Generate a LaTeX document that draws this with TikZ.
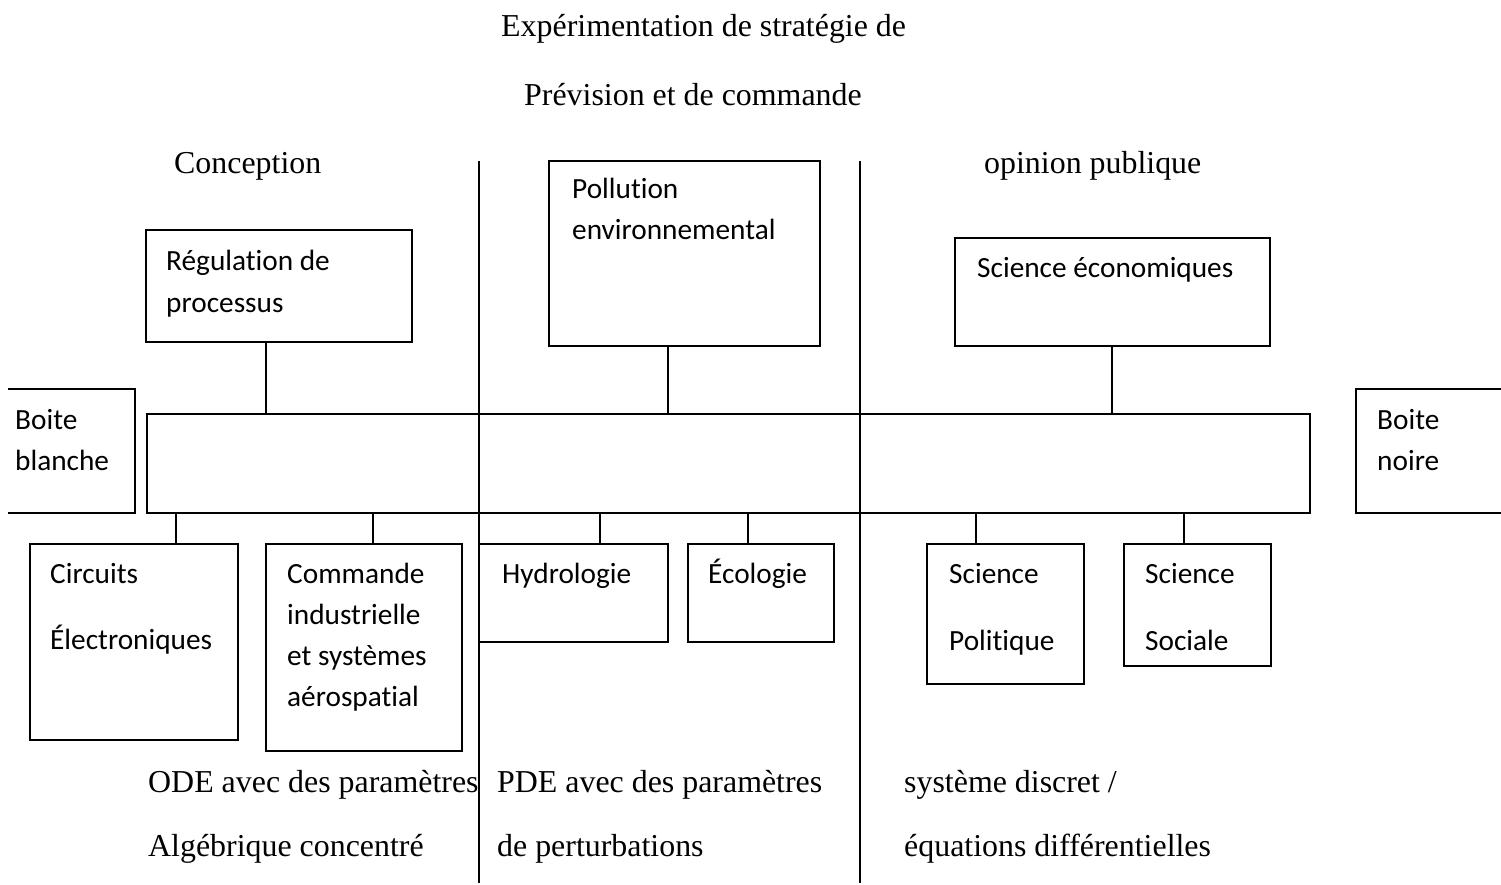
\documentclass[tikz,border=0pt]{standalone}
\usepackage{fontspec}
\setmainfont{Liberation Serif}
\newfontfamily\boxfont[Ligatures=NoCommon]{Carlito}
\begin{document}
\begin{tikzpicture}[x=1pt,y=-1pt,
  line/.style={line width=1.5pt},
  box/.style={draw, line width=1.5pt, inner sep=0pt, outer sep=0pt, anchor=north west},
  boxtext/.style={anchor=base west, inner sep=0pt, font=\boxfont\fontsize{29.3}{41}\selectfont},
  serif/.style={anchor=base west, inner sep=0pt, font=\fontsize{31.9}{38}\selectfont}]
\useasboundingbox (0,0) rectangle (1501,885);

% headings
\node[serif] (t1) at (501,37) {Expérimentation de stratégie de};
\node[serif] (t2) at (524,106) {Prévision et de commande};
\node[serif] (conc) at (174,174) {Conception};
\node[serif] (opin) at (984,174) {opinion publique};

% column dividers
\coordinate (d1top) at (479,161);
\coordinate (d1bot) at (479,883);
\coordinate (d2top) at (860,161);
\coordinate (d2bot) at (860,883);
\draw[line] (d1top) -- (d1bot);
\draw[line] (d2top) -- (d2bot);

% central bar
\node[box, minimum width=1163pt, minimum height=99pt] (bus) at (147,414) {};

% white box / black box (open shapes)
\coordinate (bbA) at (8,389);
\coordinate (bbB) at (135,389);
\coordinate (bbC) at (135,513);
\coordinate (bbD) at (8,513);
\draw[line] (bbA) -- (bbB) -- (bbC) -- (bbD);
\node[boxtext] (bbT) at (15,429) {\begin{tabular}[t]{@{}l@{}}Boite\\blanche\end{tabular}};

\coordinate (bnA) at (1501,389);
\coordinate (bnB) at (1356,389);
\coordinate (bnC) at (1356,513);
\coordinate (bnD) at (1501,513);
\draw[line] (bnA) -- (bnB) -- (bnC) -- (bnD);
\node[boxtext] (bnT) at (1377,429) {\begin{tabular}[t]{@{}l@{}}Boite\\noire\end{tabular}};

% upper boxes
\node[box, minimum width=266pt, minimum height=112pt] (reg) at (146,230) {};
\node[boxtext] (regT) at (166,271) {\begin{tabular}[t]{@{}l@{}}Régulation de\\processus\end{tabular}};

\node[box, minimum width=271pt, minimum height=185pt] (pol) at (549,161) {};
\node[boxtext] (polT) at (572,199) {\begin{tabular}[t]{@{}l@{}}Pollution\\environnemental\end{tabular}};

\node[box, minimum width=315pt, minimum height=108pt] (eco) at (955,238) {};
\node[boxtext] (ecoT) at (977,277) {Science économiques};

% lower boxes
\node[box, minimum width=208pt, minimum height=196pt] (circ) at (30,544) {};
\node[boxtext] (circT) at (50,583) {\begin{tabular}[t]{@{}l@{}}Circuits\\[25pt]Électroniques\end{tabular}};

\node[box, minimum width=196pt, minimum height=207pt] (cmd) at (266,544) {};
\node[boxtext] (cmdT) at (287,583) {\begin{tabular}[t]{@{}l@{}}Commande\\industrielle\\et systèmes\\aérospatial\end{tabular}};

\node[box, minimum width=189pt, minimum height=98pt] (hyd) at (479,544) {};
\node[boxtext] (hydT) at (502,583) {Hydrologie};

\node[box, minimum width=146pt, minimum height=98pt] (ecol) at (688,544) {};
\node[boxtext] (ecolT) at (708,583) {Écologie};

\node[box, minimum width=157pt, minimum height=140pt] (spol) at (927,544) {};
\node[boxtext] (spolT) at (949,583) {\begin{tabular}[t]{@{}l@{}}Science\\[26pt]Politique\end{tabular}};

\node[box, minimum width=147pt, minimum height=122pt] (ssoc) at (1124,544) {};
\node[boxtext] (ssocT) at (1145,583) {\begin{tabular}[t]{@{}l@{}}Science\\[26pt]Sociale\end{tabular}};

% connectors to the central bar
\draw[line] ([xshift=-13pt]reg.south) -- ([xshift=-13pt]reg.south |- bus.north);
\draw[line] ([xshift=-16.5pt]pol.south) -- ([xshift=-16.5pt]pol.south |- bus.north);
\draw[line] ([xshift=-0.5pt]eco.south) -- ([xshift=-0.5pt]eco.south |- bus.north);
\draw[line] ([xshift=42pt]circ.north) -- ([xshift=42pt]circ.north |- bus.south);
\draw[line] ([xshift=9pt]cmd.north) -- ([xshift=9pt]cmd.north |- bus.south);
\draw[line] ([xshift=26.5pt]hyd.north) -- ([xshift=26.5pt]hyd.north |- bus.south);
\draw[line] ([xshift=-13pt]ecol.north) -- ([xshift=-13pt]ecol.north |- bus.south);
\draw[line] ([xshift=-29.5pt]spol.north) -- ([xshift=-29.5pt]spol.north |- bus.south);
\draw[line] ([xshift=-13.5pt]ssoc.north) -- ([xshift=-13.5pt]ssoc.north |- bus.south);

% equation classes
\node[serif] (ode) at (148,792) {\begin{tabular}[t]{@{}l@{}}ODE avec des paramètres\\[26pt]Algébrique concentré\end{tabular}};
\node[serif] (pde) at (497,792) {\begin{tabular}[t]{@{}l@{}}PDE avec des paramètres\\[26pt]de perturbations\end{tabular}};
\node[serif] (dis) at (904,792) {\begin{tabular}[t]{@{}l@{}}système discret /\\[26pt]équations différentielles\end{tabular}};
\end{tikzpicture}
\end{document}
